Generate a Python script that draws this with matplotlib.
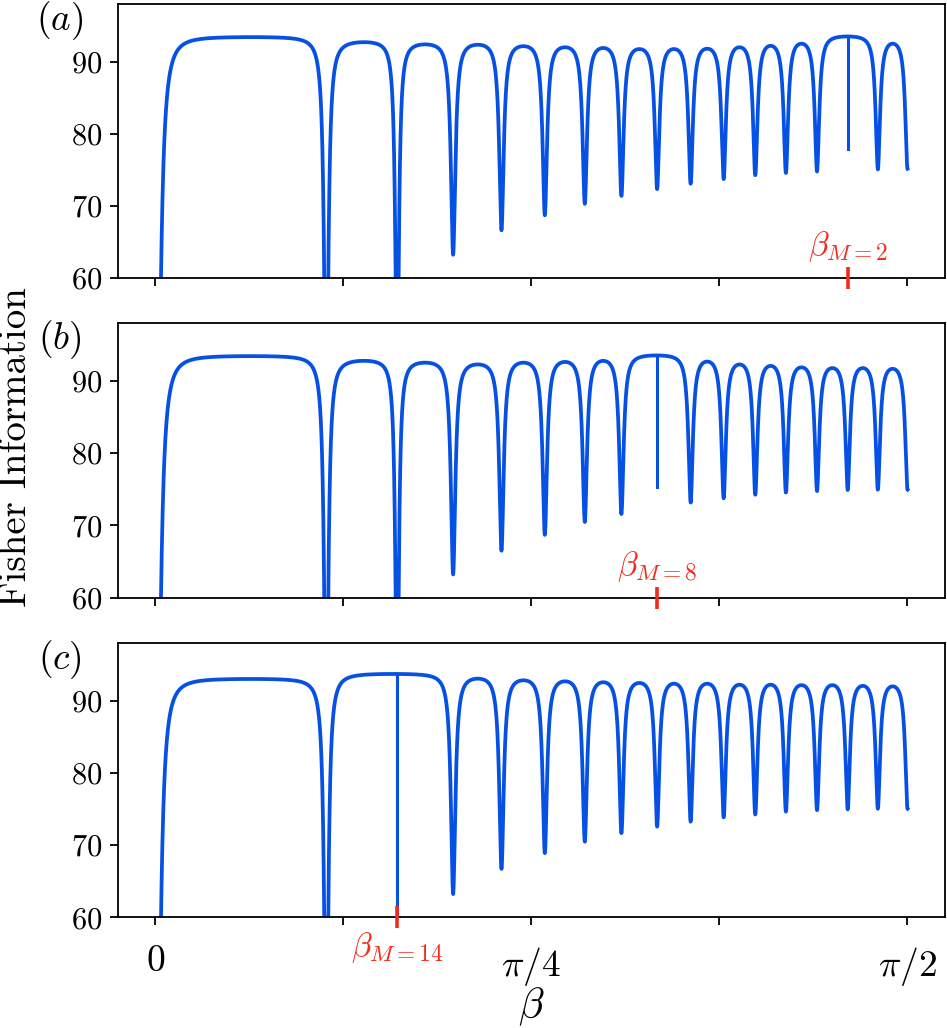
import numpy as np
import matplotlib.pyplot as plt

plt.rcParams['font.family'] = 'serif'
plt.rcParams['font.serif'] = ['cmr10']
plt.rcParams['mathtext.fontset'] = 'cm'
plt.rcParams['axes.formatter.use_mathtext'] = True

# dip positions in beta; first is the left edge, last the right edge
beta_dips = [0.0, 0.357, 0.505, 0.622, 0.723, 0.8135, 0.897, 0.9735, 1.048,
             1.118, 1.187, 1.253, 1.317, 1.382, 1.446, 1.509, 1.571]
dip_width = [0.0093, 0.0049, 0.0043] + [0.0056] * 14

# minimum of every dip (the special one is the narrow spike)
mins_a = [0, 36, 43, 63.3, 66.7, 68.8, 70.4, 71.5, 72.45, 73.2, 73.85, 74.4, 74.7, 74.9, 77.9, 75.2, 75.3]
mins_b = [0, 36, 43, 63.3, 66.6, 68.8, 70.6, 71.7, 75.3, 73.3, 73.9, 74.4, 74.7, 74.9, 75.05, 75.1, 75.1]
mins_c = [0, 36, 40, 63.3, 66.8, 69.0, 70.6, 71.8, 72.7, 73.4, 74.0, 74.4, 74.8, 75.0, 75.1, 75.2, 75.2]

# arch tops between consecutive regular dips
tops_a = [93.4, 92.7, 92.4, 92.35, 92.15, 92.0, 91.9, 91.75, 91.75, 91.8, 92.0, 92.2, 92.5, 93.5, 92.5]
tops_b = [93.45, 92.8, 92.55, 92.3, 92.55, 92.65, 92.8, 93.55, 92.7, 92.3, 92.1, 91.9, 91.8, 91.8, 91.7]
tops_c = [93.05, 93.75, 93.1, 92.87, 92.73, 92.6, 92.5, 92.4, 92.4, 92.26, 92.26, 92.2, 92.2, 92.1, 92.03]

special = [14, 8, 2]
marker_labels = [r'$\beta_{M=2}$', r'$\beta_{M=8}$', r'$\beta_{M=14}$']
panel_labels = [r'$(a)$', r'$(b)$', r'$(c)$']

BLUE = '#0650e4'
RED = '#f42a1c'


def dip_shape(d, w, p):
    return 1.0 / (1.0 + (np.abs(d) / w) ** p)


def build_curve(mins, tops, sp):
    regular = [i for i in range(len(beta_dips)) if i != sp]
    xs, ys = [], []
    for k in range(len(regular) - 1):
        a, b = regular[k], regular[k + 1]
        xa, xb = beta_dips[a], beta_dips[b]
        pa = 2.4 if a == 0 else 2.0
        t = np.linspace(0, 1, 700)
        x = xa + (xb - xa) * (1 - np.cos(np.pi * t)) / 2
        mid = (xa + xb) / 2
        la = dip_shape(mid - xa, dip_width[a], pa)
        lb = dip_shape(xb - mid, dip_width[b], 2.0)
        P = (tops[k] - mins[a] * la - mins[b] * lb) / (1 - la - lb)
        y = P - (P - mins[a]) * dip_shape(x - xa, dip_width[a], pa) \
              - (P - mins[b]) * dip_shape(xb - x, dip_width[b], 2.0)
        if k > 0:
            x, y = x[1:], y[1:]
        xs.append(x)
        ys.append(y)
    return np.concatenate(xs), np.concatenate(ys)


fig = plt.figure(figsize=(9.47, 10.28), dpi=100)
boxes = [[0.1243, 0.7296, 0.8736, 0.2665],
         [0.1243, 0.4186, 0.8736, 0.2669],
         [0.1243, 0.1077, 0.8736, 0.2665]]

all_mins = [mins_a, mins_b, mins_c]
all_tops = [tops_a, tops_b, tops_c]

for i in range(3):
    ax = fig.add_axes(boxes[i])
    x, y = build_curve(all_mins[i], all_tops[i], special[i])
    ax.plot(x, y, color=BLUE, lw=2.7, solid_joinstyle='round')

    # narrow spike at beta_M
    xm = beta_dips[special[i]]
    ym = np.interp(xm, x, y)
    ax.plot([xm, xm], [ym, all_mins[i][special[i]]], color=BLUE, lw=2.2)

    # red marker on the axis
    ax.plot([xm, xm], [58.5, 61.5], color=RED, lw=2.6, clip_on=False,
            zorder=6, solid_capstyle='butt')
    if i < 2:
        ax.text(xm, 61.9, marker_labels[i], color=RED, fontsize=24,
                ha='center', va='bottom')
    else:
        ax.text(xm, 58.2, marker_labels[i], color=RED, fontsize=24,
                ha='center', va='top')

    ax.set_xlim(-0.0785, np.pi / 2 + 0.0785)
    ax.set_ylim(60, 98)
    ax.set_yticks([60, 70, 80, 90])
    ax.set_xticks(np.arange(5) * np.pi / 8)
    if i == 2:
        ax.set_xticklabels([r'$0$', '', r'$\pi/4$', '', r'$\pi/2$'])
    else:
        ax.set_xticklabels([])
    ax.tick_params(axis='y', labelsize=22, length=6, width=1.3, pad=5)
    ax.tick_params(axis='x', labelsize=27, length=6, width=1.3, pad=14)
    for s in ax.spines.values():
        s.set_linewidth(1.3)
    ax.text(-0.07, 0.94, panel_labels[i], transform=ax.transAxes,
            fontsize=27, ha='center', va='center')

fig.text(0.017, 0.565, 'Fisher Information', rotation=90, fontsize=28,
         ha='center', va='center')
fig.text(531.5 / 947, 1 - 1007 / 1028, r'$\beta$', fontsize=30,
         ha='center', va='center')

fig.savefig('out.png', dpi=100)
